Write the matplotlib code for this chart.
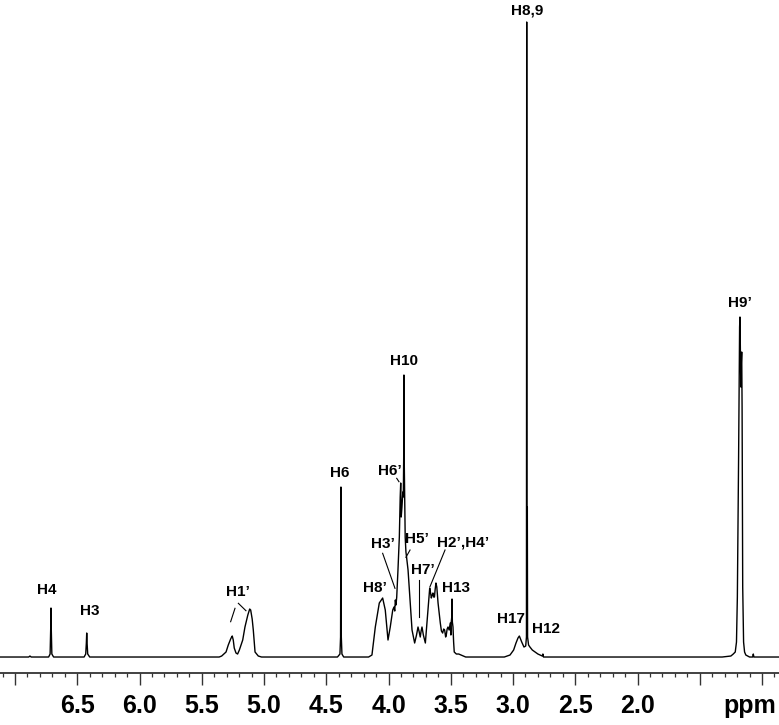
import numpy as np
import matplotlib
matplotlib.use("Agg")
import matplotlib.pyplot as plt
from matplotlib.ticker import FixedLocator, MultipleLocator
import matplotlib.transforms as mtransforms

plt.rcParams['font.family'] = ['Liberation Sans', 'DejaVu Sans']

# %% digitised 1H trace (chemical shift in ppm, intensity in arbitrary units)
ppm_h4_h3 = [7.12, 6.89, 6.88, 6.87, 6.73, 6.718, 6.713, 6.711, 6.709, 6.704, 6.69,
             6.445, 6.432, 6.427, 6.424, 6.421, 6.416, 6.40]
int_h4_h3 = [0, 0, 1, 0, 0, 3, 30, 49, 30, 3, 0,
             0, 3, 14, 24, 14, 3, 0]

ppm_h1p = [5.36, 5.34, 5.305, 5.287, 5.268, 5.26, 5.255, 5.247, 5.239, 5.225, 5.212,
           5.198, 5.171, 5.153, 5.13, 5.115, 5.107, 5.095, 5.086, 5.072, 5.046, 5.02]
int_h1p = [0, 1, 5, 12, 18, 20, 21, 17, 9, 4, 3,
           7, 17, 30, 42, 48, 47, 38, 27, 5, 1, 0]

ppm_h6 = [4.41, 4.39, 4.385, 4.382, 4.379, 4.374, 4.36]
int_h6 = [0, 3, 20, 170, 20, 3, 0]

ppm_sugar = [4.16, 4.133, 4.106, 4.074, 4.047, 4.026, 4.004, 3.986, 3.966, 3.956, 3.950,
             3.945, 3.940, 3.934, 3.924, 3.913, 3.906, 3.902, 3.898, 3.892, 3.885, 3.881,
             3.878, 3.876, 3.874, 3.870, 3.866, 3.860, 3.855, 3.843, 3.825, 3.811, 3.790,
             3.775, 3.763, 3.755, 3.745, 3.738, 3.731, 3.720, 3.704, 3.683, 3.675, 3.669,
             3.662, 3.656, 3.649, 3.643, 3.637, 3.631, 3.625, 3.619, 3.612, 3.602, 3.584,
             3.575, 3.565, 3.557, 3.549, 3.541, 3.536, 3.529, 3.522, 3.513, 3.504, 3.499,
             3.496, 3.492, 3.490, 3.487, 3.482, 3.477, 3.472, 3.455, 3.436, 3.40, 3.38]
int_sugar = [0, 2, 30, 54, 59, 47, 17, 30, 47, 50, 46,
             57, 52, 60, 87, 120, 160, 174, 140, 150, 165, 160,
             200, 282, 200, 155, 120, 105, 100, 87, 54, 27, 14,
             22, 30, 26, 20, 26, 30, 22, 14, 47, 60, 69,
             64, 59, 62, 64, 60, 60, 68, 74, 70, 54, 34,
             26, 24, 28, 27, 20, 22, 28, 30, 27, 34, 22,
             35, 40, 58, 35, 30, 15, 5, 3, 3, 1, 0]

ppm_h17_h89 = [3.07, 3.024, 2.995, 2.976, 2.96, 2.949, 2.93, 2.912, 2.898, 2.892, 2.890,
               2.888, 2.886, 2.885, 2.883, 2.875, 2.864, 2.845, 2.823, 2.800, 2.783, 2.765,
               2.760, 2.755, 2.74]
int_h17_h89 = [0, 2, 7, 14, 19, 21, 15, 10, 11, 20, 635,
               25, 40, 150, 20, 12, 10, 7, 5, 3, 2, 1,
               3, 0, 0]

ppm_h9p = [1.32, 1.25, 1.231, 1.215, 1.205, 1.198, 1.188, 1.180, 1.177, 1.174, 1.170,
           1.166, 1.163, 1.160, 1.155, 1.148, 1.14, 1.13, 1.10, 1.075, 1.070, 1.065, 0.86]
int_h9p = [0, 1, 3, 5, 15, 60, 200, 330, 340, 310, 270,
           295, 305, 250, 70, 15, 5, 2, 0, 0, 3, 0, 0]

# %% peak assignments: label, ppm, height of label centre
labels = ['H4', 'H3', 'H1\u2019', 'H6', 'H6\u2019', 'H10', 'H3\u2019', 'H5\u2019', 'H7\u2019',
          'H8\u2019', 'H2\u2019,H4\u2019', 'H13', 'H17', 'H12', 'H8,9', 'H9\u2019']
label_ppm = [6.741, 6.403, 5.207, 4.390, 3.988, 3.876, 4.042, 3.774, 3.726,
             4.108, 3.399, 3.458, 3.016, 2.735, 2.890, 1.177]
label_int = [67, 46, 65, 184, 186, 296, 113, 118, 87,
             69, 115, 69, 38, 28, 647, 354]

# leader lines (ppm start, int start, ppm end, int end)
leaders = [(5.233, 48.7, 5.268, 35.3),
           (5.206, 53.7, 5.145, 46.3),
           (3.934, 178.7, 3.916, 175.3),
           (4.047, 103.7, 3.948, 68.7),
           (3.827, 107.0, 3.860, 99.7),
           (3.755, 77.0, 3.755, 40.3),
           (3.546, 107.0, 3.667, 70.3)]

major_ticks = [7.0, 6.5, 6.0, 5.5, 5.0, 4.5, 4.0, 3.5, 3.0, 2.5, 2.0, 1.5, 1.0]
major_labels = ['', '6.5', '6.0', '5.5', '5.0', '4.5', '4.0', '3.5', '3.0', '2.5', '2.0', '', '']

# %%
ppm = np.concatenate([ppm_h4_h3, ppm_h1p, ppm_h6, ppm_sugar, ppm_h17_h89, ppm_h9p])
intensity = np.concatenate([int_h4_h3, int_h1p, int_h6, int_sugar, int_h17_h89, int_h9p])

fig = plt.figure(figsize=(7.79, 7.25), dpi=100)
ax = fig.add_axes([0, 0.0717, 1, 0.9283])
ax.plot(ppm, intensity, color='black', lw=1.0)

ax.set_xlim(7.1205, 0.8635)
ax.set_ylim(-16, 657)

for s in ['top', 'left', 'right']:
    ax.spines[s].set_visible(False)
ax.spines['bottom'].set_linewidth(1.3)
ax.spines['bottom'].set_color('#333333')
ax.set_yticks([])

ax.xaxis.set_major_locator(FixedLocator(major_ticks))
ax.set_xticklabels(major_labels)
ax.xaxis.set_minor_locator(MultipleLocator(0.1))
ax.tick_params(axis='x', which='major', direction='out', length=8.6, width=1.0,
               color='#333333', labelsize=18, pad=6.5)
ax.tick_params(axis='x', which='minor', direction='out', length=3.0, width=0.9,
               color='#333333')
for lab in ax.get_xticklabels():
    lab.set_fontweight('bold')

trans = mtransforms.blended_transform_factory(ax.transData, ax.transAxes)
ax.annotate('ppm', xy=(1.096, 0), xycoords=trans, xytext=(0, -15.1),
            textcoords='offset points', ha='center', va='top',
            fontsize=18, fontweight='bold')

for lab, xp, yp in zip(labels, label_ppm, label_int):
    ax.text(xp, yp, lab, ha='center', va='center', fontsize=11, fontweight='bold')

for x0, y0, x1, y1 in leaders:
    ax.plot([x0, x1], [y0, y1], color='black', lw=0.8)

fig.savefig('out.png', dpi=100)
